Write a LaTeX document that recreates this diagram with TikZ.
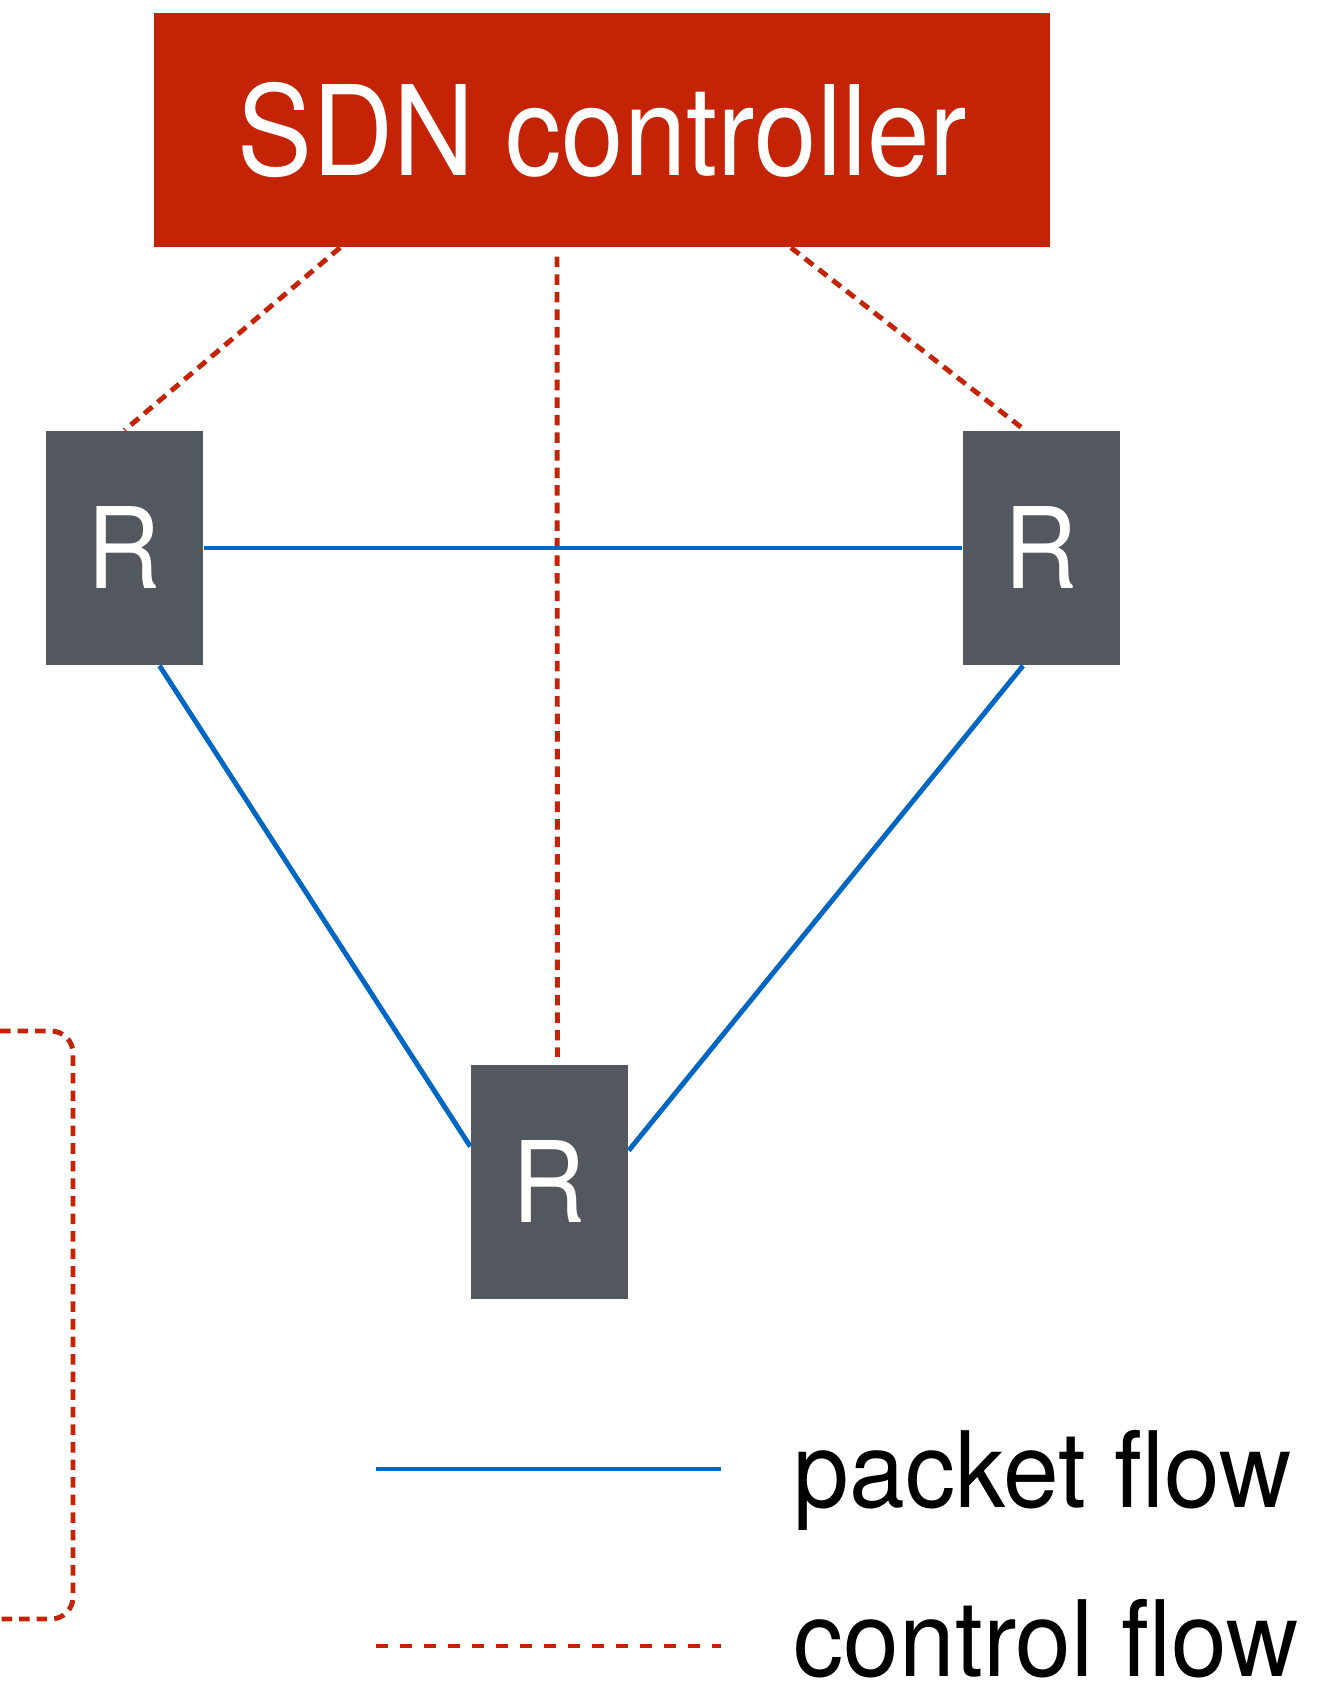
\documentclass[tikz,border=0pt]{standalone}
\usepackage{fontspec}
\setmainfont{TeX Gyre Heros}[FakeStretch=0.9]
\newfontfamily\legfont{TeX Gyre Heros}[FakeStretch=0.95]
\usetikzlibrary{positioning}
\definecolor{ctrlred}{HTML}{C52306}
\definecolor{routgray}{HTML}{53575E}
\definecolor{pktblue}{HTML}{0066C4}

\begin{document}
\begin{tikzpicture}[
	router/.style={fill=routgray, text=white, minimum width=1.57cm, minimum height=2.34cm, inner sep=0pt, font=\fontsize{32}{36}\selectfont},
	pktline/.style={pktblue, line width=1.4pt},
	ctrlline/.style={ctrlred, line width=1.4pt, dash pattern=on 3pt off 2pt},
	legtext/.style={anchor=base west, inner sep=0pt, font=\legfont\fontsize{30}{34}\selectfont}
]
	\useasboundingbox (0, 0) rectangle (13.18, -16.92);

	\node[fill=ctrlred, text=white, minimum width=8.96cm, minimum height=2.34cm, inner sep=0pt, font=\fontsize{35.5}{40}\selectfont] (ctrl) at (6.02, -1.30) {SDN controller};

	\node[router] (lr) at (1.245, -5.48) {R};
	\node[router] (rr) at (10.41, -5.48) {R};
	\node[router] (br) at (5.495, -11.815) {R};

	% control links from the controller
	\draw[ctrlline] ([xshift=-2.62cm]ctrl.south) -- (lr.north);
	\draw[ctrlline] ([xshift=-0.45cm, yshift=-0.09cm]ctrl.south) -- ([xshift=0.08cm, yshift=0.07cm]br.north);
	\draw[ctrlline] ([xshift=1.89cm]ctrl.south) -- ([xshift=-0.16cm]rr.north);

	% packet links between routers
	\draw[pktline] (lr.east) -- (rr.west);
	\draw[pktline] ([xshift=0.35cm]lr.south) -- ([yshift=0.35cm]br.west);
	\draw[pktline] ([xshift=-0.18cm]rr.south) -- ([yshift=0.31cm]br.east);

	% bracket on the left edge
	\coordinate (bt) at (0, -10.31);
	\coordinate (bb) at (0, -16.19);
	\draw[ctrlline, rounded corners=0.22cm] (bt) -- ++(0.73, 0) |- (bb);

	% legend
	\coordinate (pf1) at (3.76, -14.69);
	\coordinate (pf2) at (7.21, -14.69);
	\coordinate (cf1) at (3.76, -16.46);
	\coordinate (cf2) at (7.21, -16.46);
	\draw[pktline] (pf1) -- (pf2);
	\draw[ctrlred, line width=1.4pt, dash pattern=on 1.2mm off 1.2mm] (cf1) -- (cf2);
	\node[legtext] (pft) at (7.93, -15.07) {packet flow};
	\node[legtext] (cft) at (7.93, -16.76) {control flow};
\end{tikzpicture}
\end{document}
